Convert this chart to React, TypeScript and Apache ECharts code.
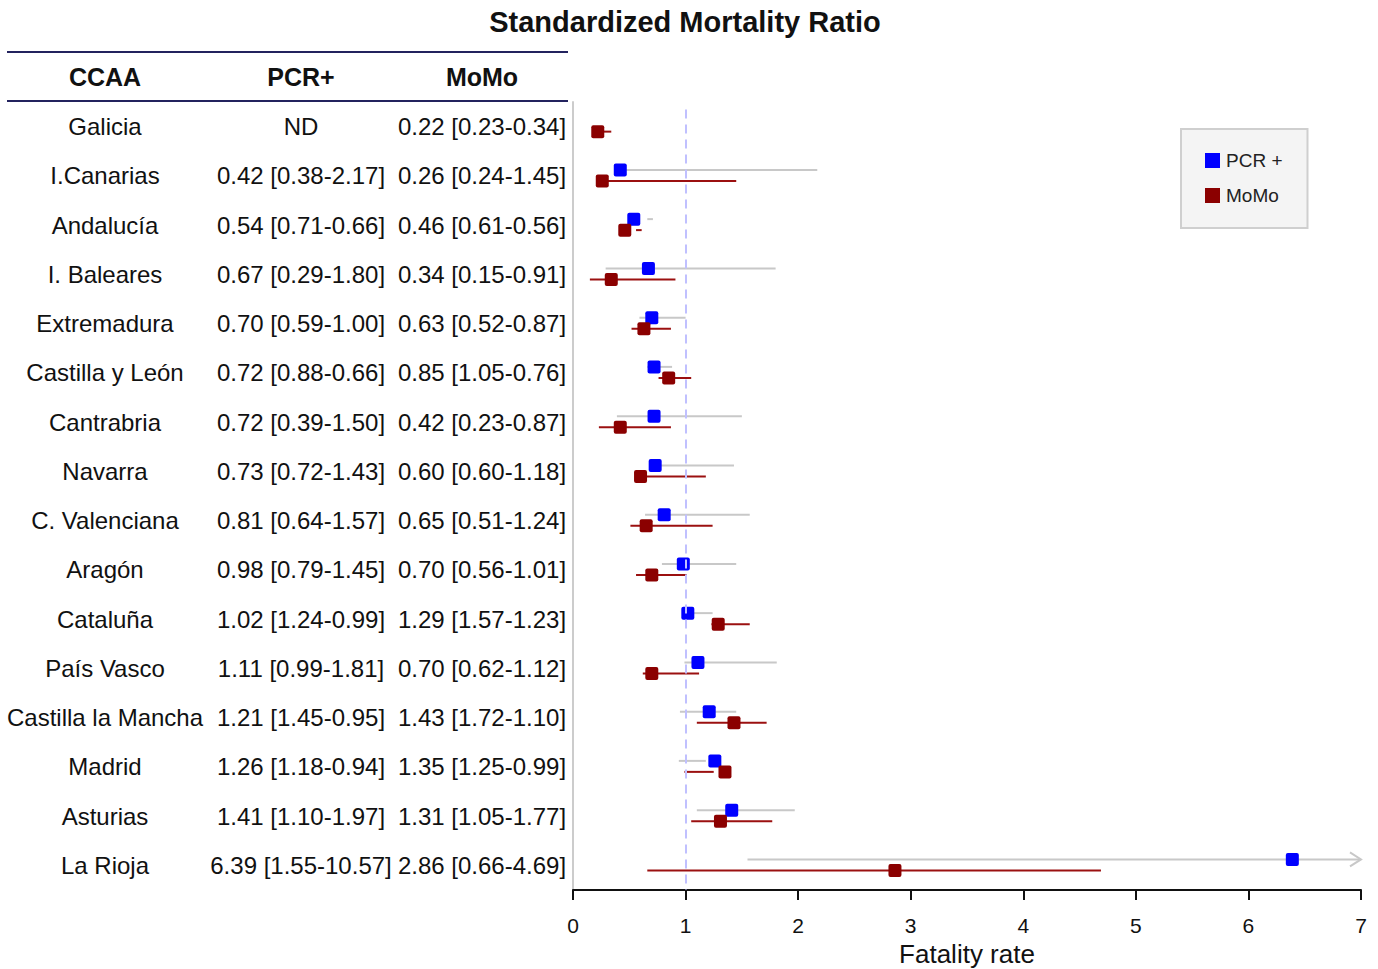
import React, { useEffect, useRef } from "react";
import * as echarts from "echarts";

const regions = [
  "Galicia", "I.Canarias", "Andalucía", "I. Baleares", "Extremadura", "Castilla y León",
  "Cantrabria", "Navarra", "C. Valenciana", "Aragón", "Cataluña", "País Vasco",
  "Castilla la Mancha", "Madrid", "Asturias", "La Rioja",
];
// PCR+ ratio and interval as printed (null = ND)
const pcrValue: (number | null)[] = [null, 0.42, 0.54, 0.67, 0.70, 0.72, 0.72, 0.73, 0.81, 0.98, 1.02, 1.11, 1.21, 1.26, 1.41, 6.39];
const pcrLow: (number | null)[] = [null, 0.38, 0.71, 0.29, 0.59, 0.88, 0.39, 0.72, 0.64, 0.79, 1.24, 0.99, 1.45, 1.18, 1.10, 1.55];
const pcrHigh: (number | null)[] = [null, 2.17, 0.66, 1.80, 1.00, 0.66, 1.50, 1.43, 1.57, 1.45, 0.99, 1.81, 0.95, 0.94, 1.97, 10.57];
// MoMo ratio and interval as printed
const momoValue = [0.22, 0.26, 0.46, 0.34, 0.63, 0.85, 0.42, 0.60, 0.65, 0.70, 1.29, 0.70, 1.43, 1.35, 1.31, 2.86];
const momoLow = [0.23, 0.24, 0.61, 0.15, 0.52, 1.05, 0.23, 0.60, 0.51, 0.56, 1.57, 0.62, 1.72, 1.25, 1.05, 0.66];
const momoHigh = [0.34, 1.45, 0.56, 0.91, 0.87, 0.76, 0.87, 1.18, 1.24, 1.01, 1.23, 1.12, 1.10, 0.99, 1.77, 4.69];
const xTicks = [0, 1, 2, 3, 4, 5, 6, 7];

const FONT = "'Liberation Sans', Arial, Helvetica, sans-serif";

const fmt = (v: number | null, lo: number | null, hi: number | null) =>
  v == null ? "ND" : `${v.toFixed(2)} [${(lo as number).toFixed(2)}-${(hi as number).toFixed(2)}]`;

const pcrText = regions.map((_, i) => fmt(pcrValue[i], pcrLow[i], pcrHigh[i]));
const momoText = regions.map((_, i) => fmt(momoValue[i], momoLow[i], momoHigh[i]));

const X_MAX = xTicks[xTicks.length - 1];

function makeRender(lineColor: string, boxColor: string, dy: number) {
  return (params: any, api: any) => {
    const v = api.value(0);
    const lo = api.value(1);
    const hi = api.value(2);
    const row = api.value(3);
    const a = Math.min(lo, hi);
    const b = Math.max(lo, hi);
    const pLo = api.coord([a, row]);
    const pHi = api.coord([Math.min(b, X_MAX), row]);
    const p = api.coord([v, row]);
    const y = p[1] + dy;
    const children: any[] = [
      {
        type: "line",
        shape: { x1: pLo[0], y1: y, x2: pHi[0], y2: y },
        style: { stroke: lineColor, lineWidth: 2 },
      },
    ];
    if (b > X_MAX) {
      children.push({
        type: "polyline",
        shape: { points: [[pHi[0] - 11, y - 7], [pHi[0], y], [pHi[0] - 11, y + 7]] },
        style: { stroke: lineColor, lineWidth: 2, fill: "none" },
      });
    }
    children.push({
      type: "rect",
      shape: { x: p[0] - 6.5, y: y - 6.5, width: 13, height: 13, r: 2 },
      style: { fill: boxColor },
    });
    return { type: "group", children };
  };
}

export default function App() {
  const ref = useRef<HTMLDivElement>(null);
  useEffect(() => {
    document.body.style.margin = "0";
    const chart = echarts.init(ref.current!, null, { renderer: "svg" });
    const pcrData = regions
      .map((_, i) => (pcrValue[i] == null ? null : [pcrValue[i], pcrLow[i], pcrHigh[i], i]))
      .filter((d) => d != null);
    const momoData = regions.map((_, i) => [momoValue[i], momoLow[i], momoHigh[i], i]);
    const tableAxis = (data: string[], margin: number) => ({
      type: "category",
      data,
      inverse: true,
      position: "left",
      axisLine: { show: false },
      axisTick: { show: false },
      splitLine: { show: false },
      axisLabel: {
        interval: 0,
        margin,
        align: "center",
        fontSize: 24,
        color: "#111",
        fontFamily: FONT,
      },
    });
    chart.setOption({
      animation: false,
      textStyle: { fontFamily: FONT },
      grid: { left: 573, right: 17, top: 102, bottom: 79, containLabel: false, outerBoundsMode: "none" },
      legend: {
        orient: "vertical",
        left: 1181,
        top: 129,
        padding: [22, 25, 23, 24],
        itemGap: 16,
        itemWidth: 15,
        itemHeight: 15,
        backgroundColor: "#f4f4f4",
        borderColor: "#cfcfcf",
        borderWidth: 2,
        textStyle: { fontSize: 19, color: "#222", fontFamily: FONT, padding: [0, 0, 0, 1] },
        data: [
          { name: "PCR +", icon: "rect" },
          { name: "MoMo", icon: "rect" },
        ],
      },
      graphic: [
        {
          type: "text",
          style: {
            text: "Standardized Mortality Ratio",
            x: 685,
            y: 22,
            align: "center",
            verticalAlign: "middle",
            fontSize: 29,
            fontWeight: "bold",
            fill: "#111",
            fontFamily: FONT,
          },
        },
        { type: "line", shape: { x1: 7, y1: 52, x2: 568, y2: 52 }, style: { stroke: "#23235e", lineWidth: 2 } },
        { type: "line", shape: { x1: 7, y1: 101, x2: 568, y2: 101 }, style: { stroke: "#23235e", lineWidth: 2 } },
        ...[
          ["CCAA", 105],
          ["PCR+", 301],
          ["MoMo", 482],
        ].map(([t, x]) => ({
          type: "text",
          style: {
            text: t,
            x,
            y: 77,
            align: "center",
            verticalAlign: "middle",
            fontSize: 25,
            fontWeight: "bold",
            fill: "#111",
            fontFamily: FONT,
          },
        })),
      ],
      xAxis: {
        type: "value",
        min: 0,
        max: X_MAX,
        interval: 1,
        name: "Fatality rate",
        nameLocation: "middle",
        nameGap: 45,
        nameTextStyle: { fontSize: 26, color: "#111", fontFamily: FONT },
        axisLine: { show: true, onZero: false, lineStyle: { color: "#111", width: 2 } },
        axisTick: { show: true, length: 10, lineStyle: { color: "#111", width: 2 } },
        axisLabel: { fontSize: 21, color: "#111", margin: 25, fontFamily: FONT },
        splitLine: { show: false },
      },
      yAxis: [
        {
          type: "value",
          min: -0.5,
          max: regions.length - 0.5,
          inverse: true,
          position: "left",
          axisLine: { show: true, onZero: false, lineStyle: { color: "#cccccc", width: 2 } },
          axisTick: { show: false },
          axisLabel: { show: false },
          splitLine: { show: false },
        },
        tableAxis(regions, 468),
        tableAxis(pcrText, 272),
        tableAxis(momoText, 91),
      ],
      series: [
        {
          name: "PCR +",
          type: "custom",
          itemStyle: { color: "#0000ff" },
          encode: { x: [0, 1, 2], y: 3 },
          renderItem: makeRender("#c8c8c8", "#0000ff", -6),
          data: pcrData,
          markLine: {
            silent: true,
            symbol: "none",
            label: { show: false },
            lineStyle: { color: "#c0c0ff", type: [9, 6], width: 2 },
            data: [[{ coord: [1, -0.35] }, { coord: [1, regions.length - 0.5] }]],
          },
          z: 3,
        },
        {
          name: "MoMo",
          type: "custom",
          itemStyle: { color: "#8b0000" },
          encode: { x: [0, 1, 2], y: 3 },
          renderItem: makeRender("#9b1010", "#8b0000", 5),
          data: momoData,
          z: 4,
        },
      ],
    });
    return () => chart.dispose();
  }, []);
  return <div ref={ref} style={{ width: 1378, height: 969 }} />;
}
